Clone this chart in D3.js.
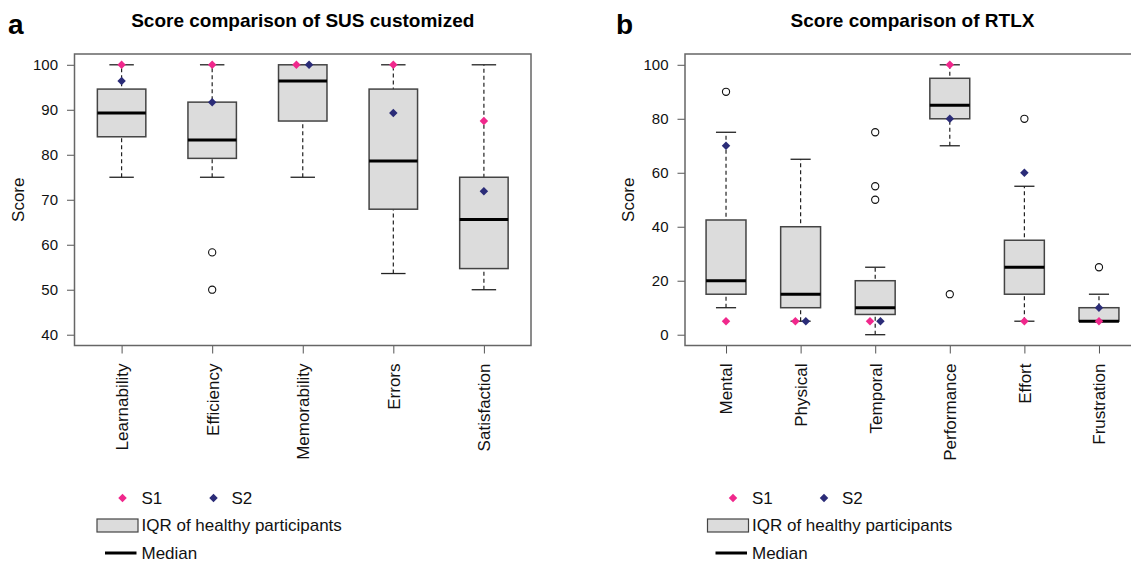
<!DOCTYPE html>
<html>
<head>
<meta charset="utf-8">
<script src="https://cdn.jsdelivr.net/npm/d3@7"></script>
<style>
  body { margin: 0; background: #fff; }
  svg { font-family: "Liberation Sans", Arial, sans-serif; }
</style>
</head>
<body>
<div id="chart"></div>
<script>
// SUS customized (panel a)
const susCats = ["Learnability", "Efficiency", "Memorability", "Errors", "Satisfaction"];
const susLow = [75, 75, 75, 53.6, 50];
const susQ1 = [84, 79.2, 87.5, 67.9, 54.7];
const susMed = [89.3, 83.3, 96.4, 78.6, 65.6];
const susQ3 = [94.6, 91.7, 100, 94.6, 75];
const susHigh = [100, 100, 100, 100, 100];
const susOut = [[], [58.3, 50], [], [], []];
const susS1 = [100, 100, 100, 100, 87.5];
const susS2 = [96.4, 91.7, 100, 89.3, 71.9];
const susTicks = [40, 50, 60, 70, 80, 90, 100];

// RTLX (panel b)
const rtlxCats = ["Mental", "Physical", "Temporal", "Performance", "Effort", "Frustration"];
const rtlxLow = [10, 5, 0, 70, 5, 5];
const rtlxQ1 = [15, 10, 7.5, 80, 15, 5];
const rtlxMed = [20, 15, 10, 85, 25, 5];
const rtlxQ3 = [42.5, 40, 20, 95, 35, 10];
const rtlxHigh = [75, 65, 25, 100, 55, 15];
const rtlxOut = [[90], [], [75, 55, 50], [15], [80], [25]];
const rtlxS1 = [5, 5, 5, 100, 5, 5];
const rtlxS2 = [70, 5, 5, 80, 60, 10];
const rtlxTicks = [0, 20, 40, 60, 80, 100];

const width = 1131, height = 563;
const pink = "#f0288c", navy = "#2b2c78";

const svg = d3.select("#chart").append("svg")
  .attr("width", width)
  .attr("height", height);

function drawPanel(p) {
  const n = p.cats.length;
  const top = 54, bottom = 345.5;
  const x = d3.scaleLinear().domain([p.xPad[0], n + p.xPad[1]]).range([p.left, p.right]);
  const y = d3.scaleLinear().domain(p.yDomain).range([bottom, top]);
  const unit = x(2) - x(1);
  const boxW = 0.535 * unit, capW = 0.27 * unit;

  const g = svg.append("g");

  // panel letter + title
  g.append("text").attr("x", p.letterX).attr("y", 34)
    .attr("font-size", 28).attr("font-weight", "bold").text(p.letter);
  g.append("text").attr("x", (p.left + p.right) / 2).attr("y", 26.7)
    .attr("text-anchor", "middle").attr("font-size", 19).attr("font-weight", "bold")
    .text(p.title);

  // y axis
  const yAxis = g.append("g").attr("transform", `translate(${p.left},0)`)
    .call(d3.axisLeft(y).tickValues(p.ticks).tickSize(7.5).tickSizeOuter(0).tickPadding(9));
  yAxis.select(".domain").remove();
  yAxis.selectAll("line").attr("stroke", "#555");
  yAxis.selectAll("text").attr("font-size", 15).attr("fill", "#111")
    .attr("font-family", "Liberation Sans, Arial, sans-serif");

  // x axis with rotated labels
  const xAxis = g.append("g").attr("transform", `translate(0,${bottom})`)
    .call(d3.axisBottom(x).tickValues(d3.range(1, n + 1)).tickSize(8).tickSizeOuter(0)
      .tickFormat(i => p.cats[i - 1]));
  xAxis.select(".domain").remove();
  xAxis.selectAll("line").attr("stroke", "#555");
  xAxis.selectAll("text")
    .attr("font-size", 17).attr("fill", "#111")
    .attr("font-family", "Liberation Sans, Arial, sans-serif")
    .attr("text-anchor", "end")
    .attr("transform", "rotate(-90)")
    .attr("x", -18).attr("y", 0).attr("dy", "0.35em");

  // y label
  g.append("text")
    .attr("transform", `translate(${p.left - 51},${(top + bottom) / 2}) rotate(-90)`)
    .attr("text-anchor", "middle").attr("font-size", 17).attr("fill", "#111")
    .text("Score");

  const idx = d3.range(n);
  const cx = i => x(i + 1);

  // whiskers
  g.selectAll(".wh").data(idx).join("line")
    .attr("x1", cx).attr("x2", cx)
    .attr("y1", i => y(p.low[i])).attr("y2", i => y(p.high[i]))
    .attr("stroke", "#222").attr("stroke-width", 1.2).attr("stroke-dasharray", "4,3");
  ["low", "high"].forEach(k => {
    g.selectAll(".cap-" + k).data(idx).join("line")
      .attr("x1", i => cx(i) - capW / 2).attr("x2", i => cx(i) + capW / 2)
      .attr("y1", i => y(p[k][i])).attr("y2", i => y(p[k][i]))
      .attr("stroke", "#222").attr("stroke-width", 1.3);
  });

  // boxes
  g.selectAll(".box").data(idx).join("rect")
    .attr("x", i => cx(i) - boxW / 2).attr("width", boxW)
    .attr("y", i => y(p.q3[i])).attr("height", i => y(p.q1[i]) - y(p.q3[i]))
    .attr("fill", "#dcdcdc").attr("stroke", "#444").attr("stroke-width", 1.5);

  // medians
  g.selectAll(".med").data(idx).join("line")
    .attr("x1", i => cx(i) - boxW / 2).attr("x2", i => cx(i) + boxW / 2)
    .attr("y1", i => y(p.med[i])).attr("y2", i => y(p.med[i]))
    .attr("stroke", "#000").attr("stroke-width", 3);

  // outliers
  const outs = idx.flatMap(i => p.out[i].map(v => ({ i, v })));
  g.selectAll(".out").data(outs).join("circle")
    .attr("cx", d => cx(d.i)).attr("cy", d => y(d.v)).attr("r", 3.6)
    .attr("fill", "#fff").attr("stroke", "#111").attr("stroke-width", 1.1);

  // frame
  g.append("rect")
    .attr("x", p.left).attr("y", top)
    .attr("width", p.right - p.left).attr("height", bottom - top)
    .attr("fill", "none").attr("stroke", "#666").attr("stroke-width", 1.5);

  // subject points (side by side when they coincide)
  const diamond = d3.symbol(d3.symbolSquare, 36);
  const shift = i => (p.s1[i] === p.s2[i] ? 0.07 * unit : 0);
  [[p.s1, pink, -1], [p.s2, navy, 1]].forEach(([vals, col, sgn]) => {
    g.selectAll(null).data(idx).join("path")
      .attr("d", diamond)
      .attr("transform", i => `translate(${cx(i) + sgn * shift(i)},${y(vals[i])}) rotate(45)`)
      .attr("fill", col);
  });

  // legend
  const lx = p.left;
  const leg = g.append("g").attr("font-size", 17).attr("fill", "#111");
  leg.append("path").attr("d", diamond)
    .attr("transform", `translate(${lx + 48},498) rotate(45)`).attr("fill", pink);
  leg.append("text").attr("x", lx + 67).attr("y", 504).text("S1");
  leg.append("path").attr("d", diamond)
    .attr("transform", `translate(${lx + 139},498) rotate(45)`).attr("fill", navy);
  leg.append("text").attr("x", lx + 157).attr("y", 504).text("S2");
  leg.append("rect").attr("x", lx + 22.5).attr("y", 519).attr("width", 41).attr("height", 13)
    .attr("fill", "#dcdcdc").attr("stroke", "#444").attr("stroke-width", 1.2);
  leg.append("text").attr("x", lx + 67).attr("y", 531).text("IQR of healthy participants");
  leg.append("line").attr("x1", lx + 30.5).attr("x2", lx + 62).attr("y1", 553).attr("y2", 553)
    .attr("stroke", "#000").attr("stroke-width", 3);
  leg.append("text").attr("x", lx + 67).attr("y", 559).text("Median");
}

drawPanel({
  letter: "a", letterX: 8, title: "Score comparison of SUS customized",
  cats: susCats, low: susLow, q1: susQ1, med: susMed, q3: susQ3, high: susHigh,
  out: susOut, s1: susS1, s2: susS2, ticks: susTicks,
  left: 74.5, right: 531, xPad: [0.48, 0.52], yDomain: [37.6, 102.4]
});

drawPanel({
  letter: "b", letterX: 616, title: "Score comparison of RTLX",
  cats: rtlxCats, low: rtlxLow, q1: rtlxQ1, med: rtlxMed, q3: rtlxQ3, high: rtlxHigh,
  out: rtlxOut, s1: rtlxS1, s2: rtlxS2, ticks: rtlxTicks,
  left: 685, right: 1140, xPad: [0.45, 0.55], yDomain: [-4, 104]
});
</script>
</body>
</html>
